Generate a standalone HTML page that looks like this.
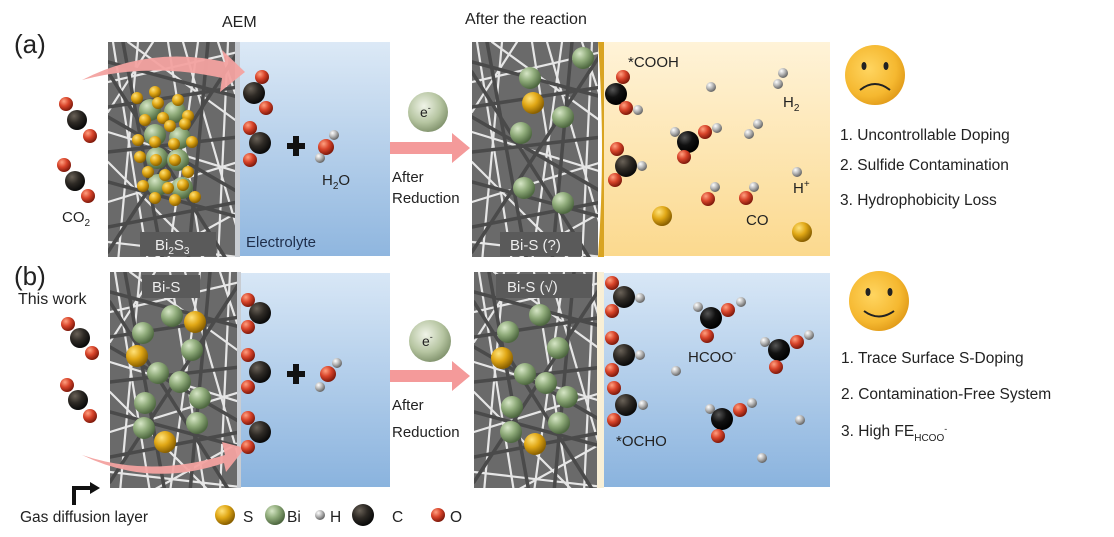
<!DOCTYPE html>
<html><head><meta charset="utf-8"><style>
html,body{margin:0;padding:0;background:#fff;width:1114px;height:537px;overflow:hidden}
svg{display:block}
text{font-family:"Liberation Sans",Arial,sans-serif;fill:#222}
</style></head><body>
<svg width="1114" height="537" viewBox="0 0 1114 537" xmlns="http://www.w3.org/2000/svg">
<defs>
<radialGradient id="gS" cx="35%" cy="30%" r="70%"><stop offset="0" stop-color="#ffe27a"/><stop offset=".5" stop-color="#e0a715"/><stop offset="1" stop-color="#8a6000"/></radialGradient>
<radialGradient id="gB" cx="35%" cy="30%" r="70%"><stop offset="0" stop-color="#d6e6c6"/><stop offset=".5" stop-color="#8fab7a"/><stop offset="1" stop-color="#4e6840"/></radialGradient>
<radialGradient id="gH" cx="35%" cy="30%" r="70%"><stop offset="0" stop-color="#fff"/><stop offset=".5" stop-color="#b8b8b8"/><stop offset="1" stop-color="#666"/></radialGradient>
<radialGradient id="gC" cx="35%" cy="30%" r="70%"><stop offset="0" stop-color="#6a6258"/><stop offset=".5" stop-color="#2e2a25"/><stop offset="1" stop-color="#0a0a0a"/></radialGradient>
<radialGradient id="gK" cx="35%" cy="30%" r="70%"><stop offset="0" stop-color="#555"/><stop offset=".5" stop-color="#111"/><stop offset="1" stop-color="#000"/></radialGradient>
<radialGradient id="gO" cx="35%" cy="30%" r="70%"><stop offset="0" stop-color="#ffa080"/><stop offset=".5" stop-color="#d8442a"/><stop offset="1" stop-color="#801a0c"/></radialGradient>
<radialGradient id="gE" cx="40%" cy="35%" r="70%"><stop offset="0" stop-color="#f0f4e8"/><stop offset=".6" stop-color="#b5c4a0"/><stop offset="1" stop-color="#7c8e68"/></radialGradient>
<radialGradient id="gF" cx="40%" cy="40%" r="65%"><stop offset="0" stop-color="#ffd560"/><stop offset=".7" stop-color="#f5b830"/><stop offset="1" stop-color="#e09a18"/></radialGradient>
<linearGradient id="blue" x1="0" y1="0" x2="0" y2="1"><stop offset="0" stop-color="#dce9f6"/><stop offset="1" stop-color="#8fb6df"/></linearGradient>
<linearGradient id="blue2" x1="0" y1="0" x2="0" y2="1"><stop offset="0" stop-color="#d8e7f6"/><stop offset="1" stop-color="#8ab3de"/></linearGradient>
<linearGradient id="yel" x1="0" y1="0" x2="0" y2="1"><stop offset="0" stop-color="#fff3d8"/><stop offset="1" stop-color="#fbd98e"/></linearGradient>
<g id="fib" stroke-linecap="round">
<rect x="0" y="0" width="130" height="220" fill="#6a6a6a"/>
<g stroke="#f4f4f4" stroke-width="2.2" opacity=".9">
<line x1="5" y1="0" x2="40" y2="220"/><line x1="30" y1="0" x2="10" y2="220"/><line x1="60" y1="0" x2="95" y2="220"/>
<line x1="90" y1="0" x2="60" y2="220"/><line x1="120" y1="0" x2="110" y2="220"/><line x1="0" y1="40" x2="130" y2="10"/>
<line x1="0" y1="90" x2="130" y2="130"/><line x1="0" y1="160" x2="130" y2="120"/><line x1="0" y1="200" x2="130" y2="215"/>
<line x1="20" y1="0" x2="130" y2="80"/><line x1="0" y1="120" x2="100" y2="220"/><line x1="130" y1="170" x2="40" y2="220"/>
<line x1="45" y1="0" x2="0" y2="70"/><line x1="110" y1="0" x2="130" y2="60"/><line x1="75" y1="0" x2="130" y2="190"/>
</g>
<g stroke="#4a4a4a" stroke-width="3.5">
<line x1="0" y1="20" x2="130" y2="55"/><line x1="0" y1="65" x2="130" y2="45"/><line x1="0" y1="110" x2="130" y2="95"/>
<line x1="0" y1="140" x2="130" y2="175"/><line x1="0" y1="185" x2="130" y2="160"/><line x1="15" y1="0" x2="55" y2="220"/>
<line x1="100" y1="0" x2="80" y2="220"/><line x1="0" y1="30" x2="120" y2="220"/><line x1="130" y1="10" x2="0" y2="210"/>
<line x1="0" y1="75" x2="130" y2="150"/>
</g>
</g>
</defs>

<!-- titles -->
<text x="14" y="53" font-size="26">(a)</text>
<text x="222" y="27" font-size="16">AEM</text>
<text x="465" y="24" font-size="16">After the reaction</text>
<text x="14" y="285" font-size="26">(b)</text>
<text x="18" y="304" font-size="16">This work</text>

<!-- panels row a -->
<svg x="108" y="42" width="127" height="215"><use href="#fib"/></svg>
<rect x="235" y="42" width="5" height="215" fill="#c8ccd2"/>
<rect x="240" y="42" width="150" height="214" fill="url(#blue)"/>
<svg x="472" y="42" width="126" height="215"><use href="#fib"/></svg>
<path d="M598 42 Q606 150 598 257 L604 257 Q610 150 604 42Z" fill="#d9a422"/>
<rect x="604" y="42" width="226" height="214" fill="url(#yel)"/>
<!-- panels row b -->
<svg x="110" y="272" width="127" height="216"><use href="#fib"/></svg>
<rect x="237" y="272" width="4" height="216" fill="#c8ccd2"/>
<rect x="241" y="273" width="149" height="214" fill="url(#blue2)"/>
<svg x="474" y="272" width="123" height="216"><use href="#fib"/></svg>
<rect x="597" y="272" width="7" height="216" fill="#f8efd6"/>
<rect x="604" y="273" width="226" height="214" fill="url(#blue2)"/>

<!-- labels on panels -->
<rect x="140" y="232" width="76" height="24" fill="#5a5a5a"/>
<text x="155" y="250" font-size="15" fill="#eee" style="fill:#eee">Bi<tspan font-size="10" dy="4">2</tspan><tspan dy="-4">S</tspan><tspan font-size="10" dy="4">3</tspan></text>
<rect x="500" y="232" width="82" height="24" fill="#5a5a5a"/>
<text x="510" y="250" font-size="15" style="fill:#eee">Bi-S (?)</text>
<text x="246" y="247" font-size="15" style="fill:#1e2e4a">Electrolyte</text>
<rect x="142" y="275" width="58" height="23" fill="#5a5a5a"/>
<text x="152" y="292" font-size="15" style="fill:#eee">Bi-S</text>
<rect x="496" y="274" width="96" height="24" fill="#5a5a5a"/>
<text x="507" y="292" font-size="15" style="fill:#eee">Bi-S (√)</text>

<!-- pink arrows curved -->
<path d="M82 80 Q150 45 225 62 L222 50 L245 72 L220 92 L222 78 Q150 62 82 80Z" fill="#f3a2a0" opacity=".95"/>
<path d="M82 455 Q150 478 225 455 L222 442 L245 448 L226 472 L224 463 Q150 488 82 455Z" fill="#f3a2a0" opacity=".95"/>
<!-- straight arrows -->
<path d="M390 142 L452 142 L452 133 L470 148 L452 163 L452 154 L390 154Z" fill="#f49a9a"/>
<path d="M390 370 L452 370 L452 361 L470 376 L452 391 L452 382 L390 382Z" fill="#f49a9a"/>
<circle cx="428" cy="112" r="20" fill="url(#gE)"/><text x="420" y="117" font-size="14">e<tspan font-size="9" dy="-6">-</tspan></text>
<circle cx="430" cy="341" r="21" fill="url(#gE)"/><text x="422" y="346" font-size="14">e<tspan font-size="9" dy="-6">-</tspan></text>
<text x="392" y="182" font-size="15">After</text><text x="392" y="203" font-size="15">Reduction</text>
<text x="392" y="410" font-size="15">After</text><text x="392" y="437" font-size="15">Reduction</text>

<!-- CO2 left a -->
<g><circle cx="66" cy="104" r="7" fill="url(#gO)"/><circle cx="77" cy="120" r="10" fill="url(#gC)"/><circle cx="90" cy="136" r="7" fill="url(#gO)"/>
<circle cx="64" cy="165" r="7" fill="url(#gO)"/><circle cx="75" cy="181" r="10" fill="url(#gC)"/><circle cx="88" cy="196" r="7" fill="url(#gO)"/></g>
<text x="62" y="222" font-size="15">CO<tspan font-size="10" dy="4">2</tspan></text>
<!-- CO2 left b -->
<g><circle cx="68" cy="324" r="7" fill="url(#gO)"/><circle cx="80" cy="338" r="10" fill="url(#gC)"/><circle cx="92" cy="353" r="7" fill="url(#gO)"/>
<circle cx="67" cy="385" r="7" fill="url(#gO)"/><circle cx="78" cy="400" r="10" fill="url(#gC)"/><circle cx="90" cy="416" r="7" fill="url(#gO)"/></g>

<!-- Bi2S3 cluster -->
<g>
<circle cx="150" cy="110" r="11" fill="url(#gB)"/><circle cx="175" cy="112" r="11" fill="url(#gB)"/><circle cx="155" cy="135" r="11" fill="url(#gB)"/><circle cx="180" cy="138" r="11" fill="url(#gB)"/>
<circle cx="157" cy="158" r="11" fill="url(#gB)"/><circle cx="178" cy="160" r="11" fill="url(#gB)"/><circle cx="158" cy="185" r="11" fill="url(#gB)"/><circle cx="182" cy="188" r="11" fill="url(#gB)"/>
<g fill="url(#gS)">
<circle cx="137" cy="98" r="6"/><circle cx="155" cy="92" r="6"/><circle cx="158" cy="103" r="6"/><circle cx="178" cy="100" r="6"/><circle cx="188" cy="116" r="6"/><circle cx="185" cy="124" r="6"/>
<circle cx="145" cy="120" r="6"/><circle cx="163" cy="118" r="6"/><circle cx="170" cy="126" r="6"/><circle cx="138" cy="140" r="6"/><circle cx="155" cy="142" r="6"/><circle cx="174" cy="144" r="6"/><circle cx="192" cy="142" r="6"/>
<circle cx="140" cy="157" r="6"/><circle cx="156" cy="160" r="6"/><circle cx="175" cy="160" r="6"/><circle cx="148" cy="172" r="6"/><circle cx="165" cy="175" r="6"/><circle cx="188" cy="172" r="6"/>
<circle cx="143" cy="186" r="6"/><circle cx="168" cy="188" r="6"/><circle cx="183" cy="185" r="6"/><circle cx="195" cy="197" r="6"/><circle cx="155" cy="198" r="6"/><circle cx="175" cy="200" r="6"/>
</g></g>

<!-- row a electrolyte molecules -->
<circle cx="262" cy="77" r="7" fill="url(#gO)"/><circle cx="254" cy="93" r="11" fill="url(#gC)"/><circle cx="266" cy="108" r="7" fill="url(#gO)"/>
<circle cx="250" cy="128" r="7" fill="url(#gO)"/><circle cx="260" cy="143" r="11" fill="url(#gC)"/><circle cx="250" cy="160" r="7" fill="url(#gO)"/>
<path d="M287 143h6v-7h6v7h6v6h-6v7h-6v-7h-6z" fill="#111"/>
<circle cx="334" cy="135" r="5" fill="url(#gH)"/><circle cx="326" cy="147" r="8" fill="url(#gO)"/><circle cx="320" cy="158" r="5" fill="url(#gH)"/>
<text x="322" y="185" font-size="15">H<tspan font-size="10" dy="4">2</tspan><tspan dy="-4">O</tspan></text>
<!-- row b electrolyte molecules -->
<circle cx="248" cy="300" r="7" fill="url(#gO)"/><circle cx="260" cy="313" r="11" fill="url(#gC)"/><circle cx="248" cy="327" r="7" fill="url(#gO)"/>
<circle cx="248" cy="355" r="7" fill="url(#gO)"/><circle cx="260" cy="372" r="11" fill="url(#gC)"/><circle cx="248" cy="387" r="7" fill="url(#gO)"/>
<circle cx="248" cy="418" r="7" fill="url(#gO)"/><circle cx="260" cy="432" r="11" fill="url(#gC)"/><circle cx="248" cy="447" r="7" fill="url(#gO)"/>
<path d="M287 371h6v-7h6v7h6v6h-6v7h-6v-7h-6z" fill="#111"/>
<circle cx="337" cy="363" r="5" fill="url(#gH)"/><circle cx="328" cy="374" r="8" fill="url(#gO)"/><circle cx="320" cy="387" r="5" fill="url(#gH)"/>

<!-- row b GDL particles -->
<g>
<circle cx="172" cy="316" r="11" fill="url(#gB)"/><circle cx="195" cy="322" r="11" fill="url(#gS)"/><circle cx="143" cy="333" r="11" fill="url(#gB)"/><circle cx="192" cy="350" r="11" fill="url(#gB)"/>
<circle cx="137" cy="356" r="11" fill="url(#gS)"/><circle cx="158" cy="373" r="11" fill="url(#gB)"/><circle cx="180" cy="382" r="11" fill="url(#gB)"/><circle cx="200" cy="398" r="11" fill="url(#gB)"/>
<circle cx="145" cy="403" r="11" fill="url(#gB)"/><circle cx="197" cy="423" r="11" fill="url(#gB)"/><circle cx="144" cy="428" r="11" fill="url(#gB)"/><circle cx="165" cy="442" r="11" fill="url(#gS)"/>
</g>
<!-- row a reacted GDL -->
<g>
<circle cx="530" cy="78" r="11" fill="url(#gB)"/><circle cx="583" cy="58" r="11" fill="url(#gB)"/><circle cx="533" cy="103" r="11" fill="url(#gS)"/><circle cx="563" cy="117" r="11" fill="url(#gB)"/>
<circle cx="521" cy="133" r="11" fill="url(#gB)"/><circle cx="524" cy="188" r="11" fill="url(#gB)"/><circle cx="563" cy="203" r="11" fill="url(#gB)"/>
</g>
<!-- row b reacted GDL -->
<g>
<circle cx="540" cy="315" r="11" fill="url(#gB)"/><circle cx="508" cy="332" r="11" fill="url(#gB)"/><circle cx="558" cy="348" r="11" fill="url(#gB)"/><circle cx="502" cy="358" r="11" fill="url(#gS)"/>
<circle cx="525" cy="374" r="11" fill="url(#gB)"/><circle cx="546" cy="383" r="11" fill="url(#gB)"/><circle cx="567" cy="397" r="11" fill="url(#gB)"/><circle cx="512" cy="407" r="11" fill="url(#gB)"/>
<circle cx="559" cy="423" r="11" fill="url(#gB)"/><circle cx="511" cy="432" r="11" fill="url(#gB)"/><circle cx="535" cy="444" r="11" fill="url(#gS)"/>
</g>

<!-- row a yellow panel content -->
<text x="628" y="67" font-size="15">*COOH</text>
<circle cx="623" cy="77" r="7" fill="url(#gO)"/><circle cx="616" cy="94" r="11" fill="url(#gK)"/><circle cx="626" cy="108" r="7" fill="url(#gO)"/><circle cx="638" cy="110" r="5" fill="url(#gH)"/>
<circle cx="711" cy="87" r="5" fill="url(#gH)"/><circle cx="783" cy="73" r="5" fill="url(#gH)"/><circle cx="778" cy="84" r="5" fill="url(#gH)"/>
<text x="783" y="107" font-size="15">H<tspan font-size="10" dy="4">2</tspan></text>
<circle cx="675" cy="132" r="5" fill="url(#gH)"/><circle cx="688" cy="142" r="11" fill="url(#gK)"/><circle cx="705" cy="132" r="7" fill="url(#gO)"/><circle cx="717" cy="128" r="5" fill="url(#gH)"/><circle cx="684" cy="157" r="7" fill="url(#gO)"/>
<circle cx="758" cy="124" r="5" fill="url(#gH)"/><circle cx="749" cy="134" r="5" fill="url(#gH)"/>
<circle cx="617" cy="149" r="7" fill="url(#gO)"/><circle cx="626" cy="166" r="11" fill="url(#gC)"/><circle cx="615" cy="180" r="7" fill="url(#gO)"/><circle cx="642" cy="166" r="5" fill="url(#gH)"/>
<circle cx="715" cy="187" r="5" fill="url(#gH)"/><circle cx="708" cy="199" r="7" fill="url(#gO)"/><circle cx="754" cy="187" r="5" fill="url(#gH)"/><circle cx="746" cy="198" r="7" fill="url(#gO)"/>
<circle cx="797" cy="172" r="5" fill="url(#gH)"/><text x="793" y="193" font-size="15">H<tspan font-size="10" dy="-6">+</tspan></text>
<text x="746" y="225" font-size="15">CO</text>
<circle cx="662" cy="216" r="10" fill="url(#gS)"/><circle cx="802" cy="232" r="10" fill="url(#gS)"/>

<!-- row b blue panel content -->
<circle cx="612" cy="283" r="7" fill="url(#gO)"/><circle cx="624" cy="297" r="11" fill="url(#gC)"/><circle cx="612" cy="311" r="7" fill="url(#gO)"/><circle cx="640" cy="298" r="5" fill="url(#gH)"/>
<circle cx="612" cy="338" r="7" fill="url(#gO)"/><circle cx="624" cy="355" r="11" fill="url(#gC)"/><circle cx="612" cy="370" r="7" fill="url(#gO)"/><circle cx="640" cy="355" r="5" fill="url(#gH)"/>
<circle cx="614" cy="388" r="7" fill="url(#gO)"/><circle cx="626" cy="405" r="11" fill="url(#gC)"/><circle cx="614" cy="420" r="7" fill="url(#gO)"/><circle cx="643" cy="405" r="5" fill="url(#gH)"/>
<text x="616" y="446" font-size="15">*OCHO</text>
<circle cx="698" cy="307" r="5" fill="url(#gH)"/><circle cx="711" cy="318" r="11" fill="url(#gK)"/><circle cx="728" cy="310" r="7" fill="url(#gO)"/><circle cx="741" cy="302" r="5" fill="url(#gH)"/><circle cx="707" cy="336" r="7" fill="url(#gO)"/>
<text x="688" y="362" font-size="15">HCOO<tspan font-size="10" dy="-6">-</tspan></text>
<circle cx="765" cy="342" r="5" fill="url(#gH)"/><circle cx="779" cy="350" r="11" fill="url(#gK)"/><circle cx="797" cy="342" r="7" fill="url(#gO)"/><circle cx="809" cy="335" r="5" fill="url(#gH)"/><circle cx="776" cy="367" r="7" fill="url(#gO)"/>
<circle cx="676" cy="371" r="5" fill="url(#gH)"/>
<circle cx="710" cy="409" r="5" fill="url(#gH)"/><circle cx="722" cy="419" r="11" fill="url(#gK)"/><circle cx="740" cy="410" r="7" fill="url(#gO)"/><circle cx="752" cy="403" r="5" fill="url(#gH)"/><circle cx="718" cy="436" r="7" fill="url(#gO)"/>
<circle cx="800" cy="420" r="5" fill="url(#gH)"/><circle cx="762" cy="458" r="5" fill="url(#gH)"/>

<!-- smileys -->
<circle cx="875" cy="75" r="30" fill="url(#gF)"/>
<ellipse cx="864" cy="66" rx="2.5" ry="4" fill="#222"/><ellipse cx="886" cy="66" rx="2.5" ry="4" fill="#222"/>
<path d="M860 90 Q875 78 890 90" stroke="#222" stroke-width="2" fill="none"/>
<circle cx="879" cy="301" r="30" fill="url(#gF)"/>
<ellipse cx="868" cy="292" rx="2.5" ry="4" fill="#222"/><ellipse cx="890" cy="292" rx="2.5" ry="4" fill="#222"/>
<path d="M864 311 Q879 322 894 311" stroke="#222" stroke-width="2" fill="none"/>

<!-- lists -->
<g font-size="15.5">
<text x="840" y="140">1. Uncontrollable Doping</text>
<text x="840" y="170">2. Sulfide Contamination</text>
<text x="840" y="205">3. Hydrophobicity Loss</text>
<text x="841" y="363">1. Trace Surface S-Doping</text>
<text x="841" y="399">2. Contamination-Free System</text>
<text x="841" y="436">3. High FE<tspan font-size="10" dy="5">HCOO</tspan><tspan font-size="9" dy="-9">-</tspan></text>
</g>

<!-- legend -->
<path d="M74 505 L74 488 L92 488" stroke="#111" stroke-width="4" fill="none"/><path d="M90 482 L100 488 L90 494Z" fill="#111"/>
<g font-size="15.5">
<text x="20" y="522">Gas diffusion layer</text>
<circle cx="225" cy="515" r="10" fill="url(#gS)"/><text x="243" y="522">S</text>
<circle cx="275" cy="515" r="10" fill="url(#gB)"/><text x="287" y="522">Bi</text>
<circle cx="320" cy="515" r="5" fill="url(#gH)"/><text x="330" y="522">H</text>
<circle cx="363" cy="515" r="11" fill="url(#gC)"/><text x="392" y="522">C</text>
<circle cx="438" cy="515" r="7" fill="url(#gO)"/><text x="450" y="522">O</text>
</g>
</svg>
</body></html>
